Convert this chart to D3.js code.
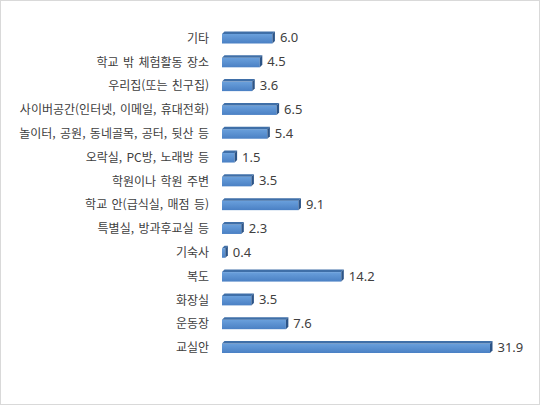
<!DOCTYPE html>
<html lang="ko">
<head>
<meta charset="utf-8">
<title>장소별 비율</title>
<script src="https://cdnjs.cloudflare.com/ajax/libs/d3/7.8.5/d3.min.js"></script>
<style>
  html, body { margin: 0; padding: 0; background: #fff; }
  svg { display: block; }
  .cat { font-family: "Noto Sans CJK KR", "Noto Sans", sans-serif; font-size: 12px; word-spacing: 1px; fill: #404040; }
  .val { font-family: "Noto Sans", "DejaVu Sans", sans-serif; font-size: 13px; fill: #404040; }
</style>
</head>
<body>
<div id="chart"></div>
<script>
// data, top to bottom as drawn
const categories = ["기타", "학교 밖 체험활동 장소", "우리집(또는 친구집)", "사이버공간(인터넷, 이메일, 휴대전화)",
  "놀이터, 공원, 동네골목, 공터, 뒷산 등", "오락실, PC방, 노래방 등", "학원이나 학원 주변", "학교 안(급식실, 매점 등)",
  "특별실, 방과후교실 등", "기숙사", "복도", "화장실", "운동장", "교실안"];
const values = [6.0, 4.5, 3.6, 6.5, 5.4, 1.5, 3.5, 9.1, 2.3, 0.4, 14.2, 3.5, 7.6, 31.9];

const width = 540, height = 405;
const left = 222;
const barH = 9.5;   // front face height
const depth = 2.5;  // 3d offset

const svg = d3.select("#chart").append("svg")
  .attr("width", width).attr("height", height);

// outer frame
svg.append("rect")
  .attr("x", 0.5).attr("y", 0.5)
  .attr("width", width - 1).attr("height", height - 1)
  .attr("fill", "#fff").attr("stroke", "#d9d9d9");

const x = d3.scaleLinear().domain([0, 31.9]).range([left, 490]);
const y = d3.scalePoint().domain(categories).range([37.5, 347]);

const defs = svg.append("defs");
const grad = defs.append("linearGradient").attr("id", "face")
  .attr("x1", 0).attr("y1", 0).attr("x2", 0).attr("y2", 1);
grad.append("stop").attr("offset", "0%").attr("stop-color", "#6aa0dc");
grad.append("stop").attr("offset", "100%").attr("stop-color", "#4a80c4");

const rows = categories.map((c, i) => ({ cat: c, v: values[i] }));

const bars = svg.append("g").selectAll("g")
  .data(rows).join("g");

// front face
bars.append("rect")
  .attr("x", left)
  .attr("y", d => y(d.cat) - barH / 2 + depth / 2)
  .attr("width", d => Math.max(1, x(d.v) - left))
  .attr("height", barH)
  .attr("fill", "url(#face)");

// top face
bars.append("path")
  .attr("d", d => {
    const y0 = y(d.cat) - barH / 2 + depth / 2, x1 = x(d.v);
    return `M${left},${y0} L${left + depth},${y0 - depth} L${x1 + depth},${y0 - depth} L${x1},${y0} Z`;
  })
  .attr("fill", "#3f6fa8");

// right side
bars.append("path")
  .attr("d", d => {
    const y0 = y(d.cat) - barH / 2 + depth / 2, x1 = x(d.v);
    return `M${x1},${y0} L${x1 + depth},${y0 - depth} L${x1 + depth},${y0 + barH - depth} L${x1},${y0 + barH} Z`;
  })
  .attr("fill", "#2c5487");

// value labels
bars.append("text")
  .attr("class", "val")
  .attr("x", d => x(d.v) + depth + 5)
  .attr("y", d => y(d.cat) + 1.5)
  .attr("dominant-baseline", "middle")
  .text(d => d.v.toFixed(1));

// category labels
svg.append("g").selectAll("text")
  .data(rows).join("text")
  .attr("class", "cat")
  .attr("x", 209)
  .attr("y", d => y(d.cat) + 2)
  .attr("text-anchor", "end")
  .attr("dominant-baseline", "middle")
  .text(d => d.cat);
</script>
</body>
</html>
